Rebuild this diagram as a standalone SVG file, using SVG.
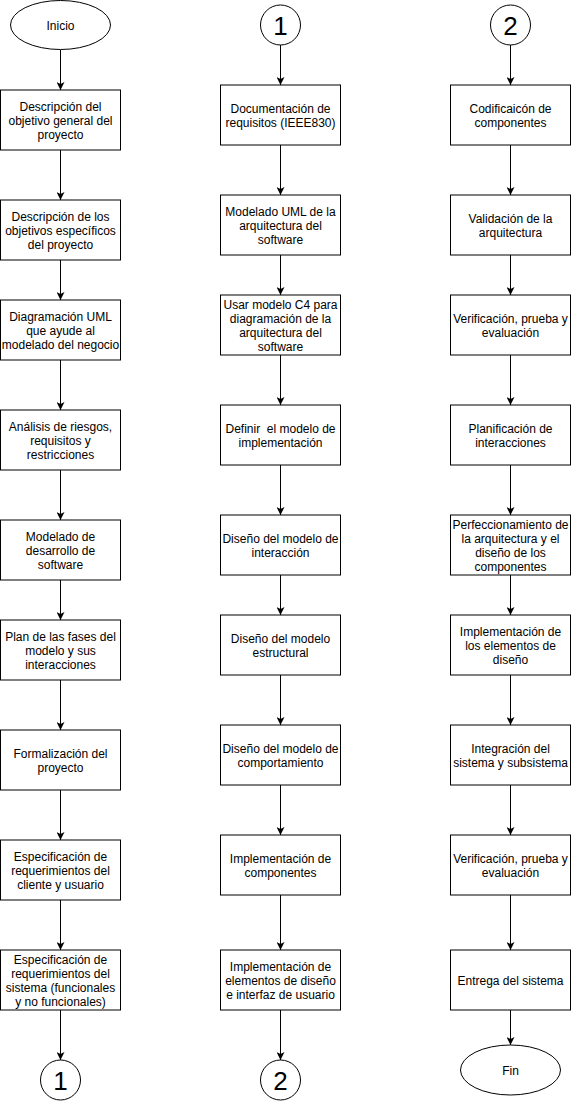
<svg xmlns="http://www.w3.org/2000/svg" width="571" height="1101" viewBox="0 0 571 1101">
<style>
.n{fill:#fff;stroke:#000;stroke-width:1}
.t{font-family:"Liberation Sans",Arial,sans-serif;font-size:12px;fill:#000;text-anchor:middle}
.big{font-family:"Liberation Sans",Arial,sans-serif;font-size:26px;fill:#000;text-anchor:middle}
.c{stroke:#000;stroke-width:1;fill:none;marker-end:url(#arr)}
</style>
<defs>
<marker id="arr" viewBox="0 0 8 8" markerWidth="8" markerHeight="8" refX="8" refY="4" orient="auto" markerUnits="userSpaceOnUse">
<path d="M0,0 L8,4 L0,8 L2,4 Z" fill="#000"/>
</marker>
</defs>
<rect width="571" height="1101" fill="#fff"/>
<g id="connectors">
<line class="c" x1="60.5" y1="50" x2="60.5" y2="90"/>
<line class="c" x1="60.5" y1="150" x2="60.5" y2="200"/>
<line class="c" x1="60.5" y1="260" x2="60.5" y2="300"/>
<line class="c" x1="60.5" y1="360" x2="60.5" y2="410"/>
<line class="c" x1="60.5" y1="470" x2="60.5" y2="520"/>
<line class="c" x1="60.5" y1="580" x2="60.5" y2="620"/>
<line class="c" x1="60.5" y1="680" x2="60.5" y2="730"/>
<line class="c" x1="60.5" y1="790" x2="60.5" y2="840"/>
<line class="c" x1="60.5" y1="900" x2="60.5" y2="950"/>
<line class="c" x1="60.5" y1="1010" x2="60.5" y2="1060"/>
<line class="c" x1="280.5" y1="45" x2="280.5" y2="85"/>
<line class="c" x1="280.5" y1="145" x2="280.5" y2="195"/>
<line class="c" x1="280.5" y1="255" x2="280.5" y2="295"/>
<line class="c" x1="280.5" y1="355" x2="280.5" y2="405"/>
<line class="c" x1="280.5" y1="465" x2="280.5" y2="515"/>
<line class="c" x1="280.5" y1="575" x2="280.5" y2="615"/>
<line class="c" x1="280.5" y1="675" x2="280.5" y2="725"/>
<line class="c" x1="280.5" y1="785" x2="280.5" y2="835"/>
<line class="c" x1="280.5" y1="895" x2="280.5" y2="950"/>
<line class="c" x1="280.5" y1="1010" x2="280.5" y2="1060"/>
<line class="c" x1="510.5" y1="45" x2="510.5" y2="85"/>
<line class="c" x1="510.5" y1="145" x2="510.5" y2="195"/>
<line class="c" x1="510.5" y1="255" x2="510.5" y2="295"/>
<line class="c" x1="510.5" y1="355" x2="510.5" y2="405"/>
<line class="c" x1="510.5" y1="465" x2="510.5" y2="515"/>
<line class="c" x1="510.5" y1="575" x2="510.5" y2="615"/>
<line class="c" x1="510.5" y1="675" x2="510.5" y2="725"/>
<line class="c" x1="510.5" y1="785" x2="510.5" y2="835"/>
<line class="c" x1="510.5" y1="895" x2="510.5" y2="950"/>
<line class="c" x1="510.5" y1="1010" x2="510.5" y2="1045"/>
</g>
<g id="inicio"><ellipse class="n" cx="60.5" cy="25" rx="50" ry="24.5"/><text class="t" x="60.5" y="29.5">Inicio</text></g>
<g id="a1"><rect class="n" x="0.5" y="90" width="120" height="60"/><text class="t" x="60.5" y="110.5"><tspan x="60.5">Descripción del</tspan><tspan x="60.5" dy="14">objetivo general del</tspan><tspan x="60.5" dy="14">proyecto</tspan></text></g>
<g id="a2"><rect class="n" x="0.5" y="200" width="120" height="60"/><text class="t" x="60.5" y="220.5"><tspan x="60.5">Descripción de los</tspan><tspan x="60.5" dy="14">objetivos específicos</tspan><tspan x="60.5" dy="14">del proyecto</tspan></text></g>
<g id="a3"><rect class="n" x="0.5" y="300" width="120" height="60"/><text class="t" x="60.5" y="320.5"><tspan x="60.5">Diagramación UML</tspan><tspan x="60.5" dy="14">que ayude al</tspan><tspan x="60.5" dy="14">modelado del negocio</tspan></text></g>
<g id="a4"><rect class="n" x="0.5" y="410" width="120" height="60"/><text class="t" x="60.5" y="430.5"><tspan x="60.5">Análisis de riesgos,</tspan><tspan x="60.5" dy="14">requisitos y</tspan><tspan x="60.5" dy="14">restricciones</tspan></text></g>
<g id="a5"><rect class="n" x="0.5" y="520" width="120" height="60"/><text class="t" x="60.5" y="540.5"><tspan x="60.5">Modelado de</tspan><tspan x="60.5" dy="14">desarrollo de</tspan><tspan x="60.5" dy="14">software</tspan></text></g>
<g id="a6"><rect class="n" x="0.5" y="620" width="120" height="60"/><text class="t" x="60.5" y="640.5"><tspan x="60.5">Plan de las fases del</tspan><tspan x="60.5" dy="14">modelo y sus</tspan><tspan x="60.5" dy="14">interacciones</tspan></text></g>
<g id="a7"><rect class="n" x="0.5" y="730" width="120" height="60"/><text class="t" x="60.5" y="757.5"><tspan x="60.5">Formalización del</tspan><tspan x="60.5" dy="14">proyecto</tspan></text></g>
<g id="a8"><rect class="n" x="0.5" y="840" width="120" height="60"/><text class="t" x="60.5" y="860.5"><tspan x="60.5">Especificación de</tspan><tspan x="60.5" dy="14">requerimientos del</tspan><tspan x="60.5" dy="14">cliente y usuario</tspan></text></g>
<g id="a9"><rect class="n" x="0.5" y="950" width="120" height="60"/><text class="t" x="60.5" y="963.5"><tspan x="60.5">Especificación de</tspan><tspan x="60.5" dy="14">requerimientos del</tspan><tspan x="60.5" dy="14">sistema (funcionales</tspan><tspan x="60.5" dy="14">y no funcionales)</tspan></text></g>
<g id="c1b"><circle class="n" cx="60.5" cy="1080" r="20"/><text class="big" x="60.5" y="1089.5">1</text></g>
<g id="c1t"><circle class="n" cx="280.5" cy="25" r="20"/><text class="big" x="280.5" y="34.5">1</text></g>
<g id="b1"><rect class="n" x="220.5" y="85" width="120" height="60"/><text class="t" x="280.5" y="112.5"><tspan x="280.5">Documentación de</tspan><tspan x="280.5" dy="14">requisitos (IEEE830)</tspan></text></g>
<g id="b2"><rect class="n" x="220.5" y="195" width="120" height="60"/><text class="t" x="280.5" y="215.5"><tspan x="280.5">Modelado UML de la</tspan><tspan x="280.5" dy="14">arquitectura del</tspan><tspan x="280.5" dy="14">software</tspan></text></g>
<g id="b3"><rect class="n" x="220.5" y="295" width="120" height="60"/><text class="t" x="280.5" y="308.5"><tspan x="280.5">Usar modelo C4 para</tspan><tspan x="280.5" dy="14">diagramación de la</tspan><tspan x="280.5" dy="14">arquitectura del</tspan><tspan x="280.5" dy="14">software</tspan></text></g>
<g id="b4"><rect class="n" x="220.5" y="405" width="120" height="60"/><text class="t" x="280.5" y="432.5" style="white-space:pre"><tspan x="280.5">Definir  el modelo de</tspan><tspan x="280.5" dy="14">implementación</tspan></text></g>
<g id="b5"><rect class="n" x="220.5" y="515" width="120" height="60"/><text class="t" x="280.5" y="542.5"><tspan x="280.5">Diseño del modelo de</tspan><tspan x="280.5" dy="14">interacción</tspan></text></g>
<g id="b6"><rect class="n" x="220.5" y="615" width="120" height="60"/><text class="t" x="280.5" y="642.5"><tspan x="280.5">Diseño del modelo</tspan><tspan x="280.5" dy="14">estructural</tspan></text></g>
<g id="b7"><rect class="n" x="220.5" y="725" width="120" height="60"/><text class="t" x="280.5" y="752.5"><tspan x="280.5">Diseño del modelo de</tspan><tspan x="280.5" dy="14">comportamiento</tspan></text></g>
<g id="b8"><rect class="n" x="220.5" y="835" width="120" height="60"/><text class="t" x="280.5" y="862.5"><tspan x="280.5">Implementación de</tspan><tspan x="280.5" dy="14">componentes</tspan></text></g>
<g id="b9"><rect class="n" x="220.5" y="950" width="120" height="60"/><text class="t" x="280.5" y="970.5"><tspan x="280.5">Implementación de</tspan><tspan x="280.5" dy="14">elementos de diseño</tspan><tspan x="280.5" dy="14">e interfaz de usuario</tspan></text></g>
<g id="c2b"><circle class="n" cx="280.5" cy="1080" r="20"/><text class="big" x="280.5" y="1089.5">2</text></g>
<g id="c2t"><circle class="n" cx="510.5" cy="25" r="20"/><text class="big" x="510.5" y="34.5">2</text></g>
<g id="d1"><rect class="n" x="450.5" y="85" width="120" height="60"/><text class="t" x="510.5" y="112.5"><tspan x="510.5">Codificaicón de</tspan><tspan x="510.5" dy="14">componentes</tspan></text></g>
<g id="d2"><rect class="n" x="450.5" y="195" width="120" height="60"/><text class="t" x="510.5" y="222.5"><tspan x="510.5">Validación de la</tspan><tspan x="510.5" dy="14">arquitectura</tspan></text></g>
<g id="d3"><rect class="n" x="450.5" y="295" width="120" height="60"/><text class="t" x="510.5" y="322.5"><tspan x="510.5">Verificación, prueba y</tspan><tspan x="510.5" dy="14">evaluación</tspan></text></g>
<g id="d4"><rect class="n" x="450.5" y="405" width="120" height="60"/><text class="t" x="510.5" y="432.5"><tspan x="510.5">Planificación de</tspan><tspan x="510.5" dy="14">interacciones</tspan></text></g>
<g id="d5"><rect class="n" x="450.5" y="515" width="120" height="60"/><text class="t" x="510.5" y="528.5"><tspan x="510.5">Perfeccionamiento de</tspan><tspan x="510.5" dy="14">la arquitectura y el</tspan><tspan x="510.5" dy="14">diseño de los</tspan><tspan x="510.5" dy="14">componentes</tspan></text></g>
<g id="d6"><rect class="n" x="450.5" y="615" width="120" height="60"/><text class="t" x="510.5" y="635.5"><tspan x="510.5">Implementación de</tspan><tspan x="510.5" dy="14">los elementos de</tspan><tspan x="510.5" dy="14">diseño</tspan></text></g>
<g id="d7"><rect class="n" x="450.5" y="725" width="120" height="60"/><text class="t" x="510.5" y="752.5"><tspan x="510.5">Integración del</tspan><tspan x="510.5" dy="14">sistema y subsistema</tspan></text></g>
<g id="d8"><rect class="n" x="450.5" y="835" width="120" height="60"/><text class="t" x="510.5" y="862.5"><tspan x="510.5">Verificación, prueba y</tspan><tspan x="510.5" dy="14">evaluación</tspan></text></g>
<g id="d9"><rect class="n" x="450.5" y="950" width="120" height="60"/><text class="t" x="510.5" y="984.5">Entrega del sistema</text></g>
<g id="fin"><ellipse class="n" cx="510.5" cy="1070" rx="50" ry="25"/><text class="t" x="510.5" y="1074.5">Fin</text></g>
</svg>
